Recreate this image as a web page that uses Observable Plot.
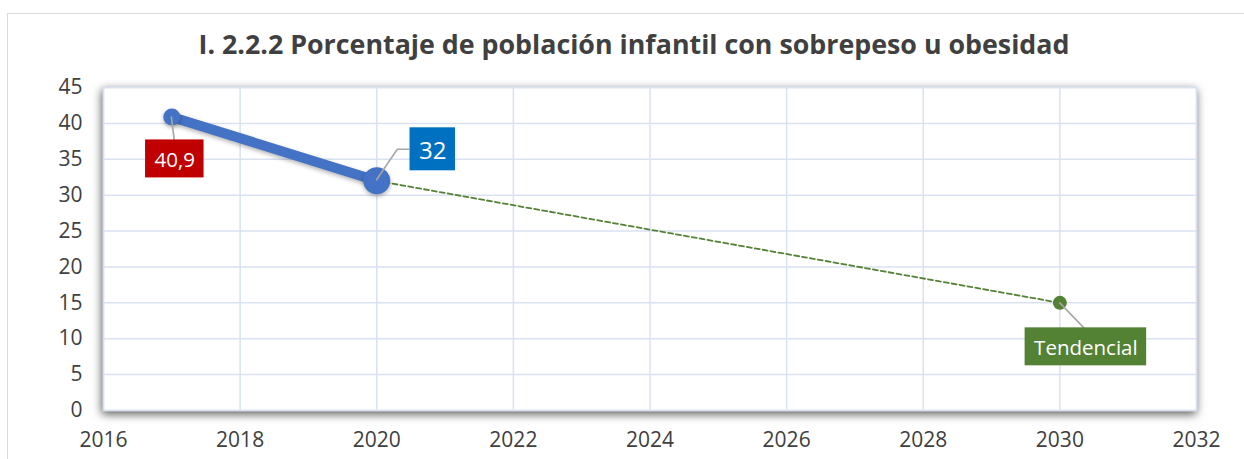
<!DOCTYPE html>
<html>
<head>
<meta charset="utf-8">
<script src="https://cdn.jsdelivr.net/npm/d3@7"></script>
<script src="https://cdn.jsdelivr.net/npm/@observablehq/plot@0.6"></script>
<style>
  html, body { margin: 0; padding: 0; background: #fff; }
  #wrap { position: relative; width: 1244px; height: 459px; overflow: hidden; background: #fff; font-family: "Open Sans", sans-serif; }
  #border { position: absolute; left: 7px; top: 13px; width: 1400px; height: 600px; border: 1px solid #d9d9d9; box-sizing: border-box; }
  #title { position: absolute; left: 0; top: 24px; width: 1268px; text-align: center; font-weight: 700; font-size: 26.8px; line-height: 40px; color: #404040; }
  #chart { position: absolute; left: 0; top: 60px; }
</style>
</head>
<body>
<div id="wrap">
  <div id="border"></div>
  <div id="title">I. 2.2.2 Porcentaje de población infantil con sobrepeso u obesidad</div>
  <div id="chart"></div>
</div>
<script>
// ---- data ----
const observedYears = [2017, 2020];
const observedValues = [40.9, 32];
const trendYears = [2020, 2030];
const trendValues = [32, 15];
const labelYears = [2017, 2020, 2030];
const labelValues = [40.9, 32, 15];
const labelTexts = ["40,9", "32", "Tendencial"];
const xTicks = [2016, 2018, 2020, 2022, 2024, 2026, 2028, 2030, 2032];
const yTicks = [0, 5, 10, 15, 20, 25, 30, 35, 40, 45];

// ---- styling (not data) ----
const blue = "#4472C4";
const green = "#548235";
const grid = "#D9E1F2";
const labelFill = ["#C00000", "#0070C0", "#548235"];
const labelSize = [20.5, 24, 20.5];
const labelDx = [3, 56, 26];
const labelDy = [50, -22, 52];
// leader polyline offsets (pixels from the point)
const leaders = [
  [[0, 0], [3, 24]],
  [[0, 0], [21, -31], [33, -31]],
  [[0, 0], [25, 26]]
];

const observed = observedYears.map((x, i) => ({x, y: observedValues[i]}));
const trend = trendYears.map((x, i) => ({x, y: trendValues[i]}));
const labels = labelYears.map((x, i) => ({x, y: labelValues[i], text: labelTexts[i], i}));

const plot = Plot.plot({
  width: 1244,
  height: 399,
  marginTop: 27,
  marginBottom: 49,
  marginLeft: 103,
  marginRight: 48,
  style: {fontFamily: "Open Sans, sans-serif", fontSize: "21px", color: "#404040", background: "transparent", overflow: "visible"},
  x: {domain: [2016, 2032], label: null},
  y: {domain: [0, 45], label: null},
  marks: [
    Plot.frame({fill: "white", stroke: "#D6DCE5", strokeWidth: 1.5}),
    Plot.gridX(xTicks, {stroke: grid, strokeOpacity: 1, strokeWidth: 1.5}),
    Plot.gridY(yTicks, {stroke: grid, strokeOpacity: 1, strokeWidth: 1.5}),
    Plot.axisX(xTicks, {tickSize: 0, tickPadding: 22, tickFormat: d => String(d), fontSize: 21, fill: "#404040", label: null}),
    Plot.axisY(yTicks, {tickSize: 0, tickPadding: 21, fontSize: 21, fill: "#404040", label: null}),
    Plot.line(trend, {x: "x", y: "y", stroke: green, strokeWidth: 1.8, strokeDasharray: "5,3"}),
    Plot.line(observed, {x: "x", y: "y", stroke: blue, strokeWidth: 10, strokeLinecap: "round"}),
    Plot.dot([observed[0]], {x: "x", y: "y", r: 8.5, fill: blue, stroke: "none"}),
    Plot.dot([observed[1]], {x: "x", y: "y", r: 13.5, fill: blue, stroke: "none"}),
    Plot.dot([trend[1]], {x: "x", y: "y", r: 7, fill: green, stroke: "none"}),
    Plot.text(labels, {x: "x", y: "y", text: "text", fill: "white", fontSize: d => labelSize[d.i],
      textAnchor: "middle", lineAnchor: "middle"})
  ]
});

document.getElementById("chart").appendChild(plot);

const svg = d3.select(plot);
const xs = plot.scale("x"), ys = plot.scale("y");
const sx = v => xs.apply ? xs.apply(v) : d3.scaleLinear(xs.domain, xs.range)(v);
const sy = v => ys.apply ? ys.apply(v) : d3.scaleLinear(ys.domain, ys.range)(v);

// shadows
svg.select('[aria-label="frame"]').style("filter", "drop-shadow(-1px 3px 5px rgba(0,0,0,0.65))");
svg.selectAll('[aria-label="line"]').filter((d, i) => i === 1).style("filter", "drop-shadow(0px 2px 2px rgba(0,0,0,0.3))");
svg.selectAll('[aria-label="dot"]').filter((d, i) => i < 2).style("filter", "drop-shadow(0px 2px 2px rgba(0,0,0,0.3))");

// move labels by offsets, draw leaders and boxes behind them
const textGroup = svg.select('[aria-label="text"]');
const leaderG = d3.select(textGroup.node().parentNode).insert("g", () => textGroup.node());
textGroup.selectAll("text").each(function(_, k) {
  const d = labels[k];
  const px = sx(d.x), py = sy(d.y);
  leaderG.append("polyline")
    .attr("points", leaders[k].map(([a, b]) => `${px + a},${py + b}`).join(" "))
    .attr("fill", "none").attr("stroke", "#A6A6A6").attr("stroke-width", 1.6);
  const t = d3.select(this);
  t.attr("transform", `translate(${px + labelDx[k]},${py + labelDy[k]})`);
  t.attr("x", null).attr("y", null);
});
textGroup.selectAll("text").each(function(_, k) {
  const bb = this.getBBox();
  const m = /translate\(([-\d.]+),([-\d.]+)\)/.exec(this.getAttribute("transform"));
  const tx = +m[1], ty = +m[2];
  const padX = 9, padY = 5;
  leaderG.append("rect")
    .attr("x", tx + bb.x - padX).attr("y", ty + bb.y - padY)
    .attr("width", bb.width + 2 * padX).attr("height", bb.height + 2 * padY)
    .attr("fill", labelFill[k]);
});
</script>
</body>
</html>
